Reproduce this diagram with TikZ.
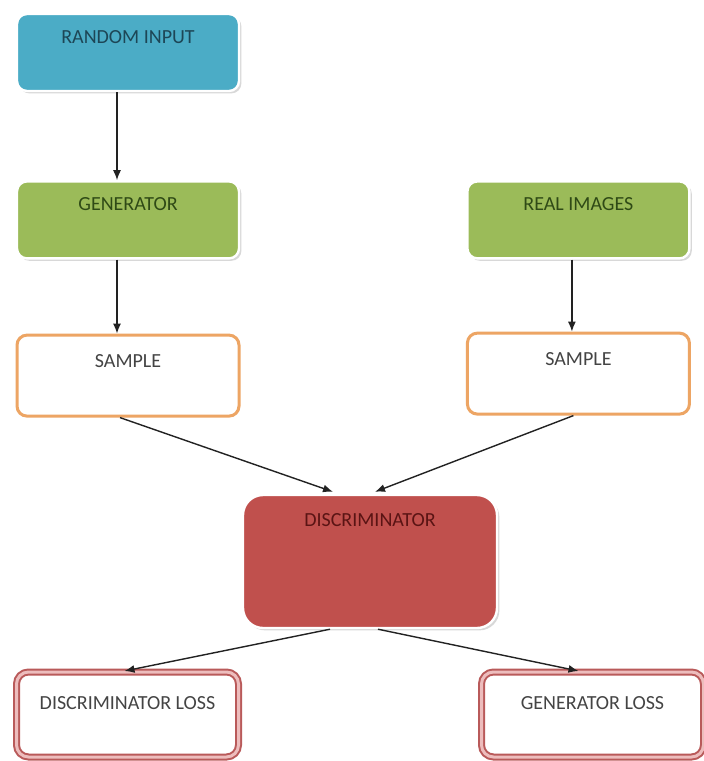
\documentclass[tikz,border=0pt]{standalone}
\usepackage{fontspec}
\setmainfont{Carlito}
\usetikzlibrary{arrows.meta,positioning,shadows}
\definecolor{inblue}{HTML}{4BACC6}
\definecolor{inbluetxt}{HTML}{1D4656}
\definecolor{gngreen}{HTML}{9BBB59}
\definecolor{gngreentxt}{HTML}{2F4A16}
\definecolor{smporange}{HTML}{EDA564}
\definecolor{dcred}{HTML}{C0504D}
\definecolor{dcredtxt}{HTML}{5A1414}
\definecolor{lsred}{HTML}{B95A5A}
\definecolor{lspink}{HTML}{EDBDBD}
\definecolor{txtgray}{HTML}{444444}
\definecolor{arrgray}{HTML}{222222}

\begin{document}
\begin{tikzpicture}[x=0.5pt,y=-0.5pt,
    b/.style={rounded corners=5pt,inner xsep=0pt,inner ysep=0pt,align=center,
      font=\fontsize{10}{12}\selectfont},
    f/.style={b,draw=white,line width=1.2pt,
      drop shadow={shadow xshift=1.2pt,shadow yshift=-1.2pt,opacity=.3},
      text height=14.5pt,text depth=24pt,minimum width=111pt},
    smp/.style={b,draw=smporange,line width=1.5pt,fill=white,text=txtgray,
      text height=16pt,text depth=24.5pt,minimum width=111pt},
    loss/.style={b,rounded corners=6pt,draw=lsred,line width=1pt,double=lspink,
      double distance=1.5pt,fill=white,text=txtgray,
      text height=18.5pt,text depth=24pt,minimum width=111pt},
    a/.style={-{Latex[length=5pt,width=4pt]},line width=.7pt,arrgray}]
    \useasboundingbox[fill=white] (0,0) rectangle (704,761);
    % generator side
    \node[f,fill=inblue,text=inbluetxt] (rand) at (128,52.5) {RANDOM INPUT};
    \node[f,fill=gngreen,text=gngreentxt,below=44pt of rand] (gen) {GENERATOR};
    \node[smp,below=37pt of gen] (sampleG) {SAMPLE};
    % real side
    \node[f,fill=gngreen,text=gngreentxt,right=113pt of gen] (real) {REAL IMAGES};
    \node[smp,below=36pt of real] (sampleR) {SAMPLE};
    \node[f,fill=dcred,text=dcredtxt,rounded corners=10pt,minimum width=127pt,
      text height=15.75pt,text depth=50.75pt] (disc) at (370,561.5) {DISCRIMINATOR};
    \node[loss] (dloss) at (127.5,714.5) {DISCRIMINATOR LOSS};
    \node[loss] (gloss) at (592.5,714.5) {GENERATOR LOSS};
    \draw[a] ([xshift=-5.5pt]rand.south) -- ([xshift=-5.5pt]gen.north);
    \draw[a] ([xshift=-5.5pt]gen.south) -- ([xshift=-5.5pt]sampleG.north);
    \draw[a] ([xshift=-3.25pt]real.south) -- ([xshift=-3.25pt]sampleR.north);
    \draw[a] ([xshift=-4pt]sampleG.south) -- ([xshift=-18.5pt,yshift=1pt]disc.north);
    \draw[a] ([xshift=-2.5pt]sampleR.south) -- ([xshift=2.5pt,yshift=1pt]disc.north);
    \draw[a] ([xshift=-20pt]disc.south) -- ([xshift=-1.5pt]dloss.north);
    \draw[a] ([xshift=4pt]disc.south) -- ([xshift=-7pt]gloss.north);
\end{tikzpicture}
\end{document}
